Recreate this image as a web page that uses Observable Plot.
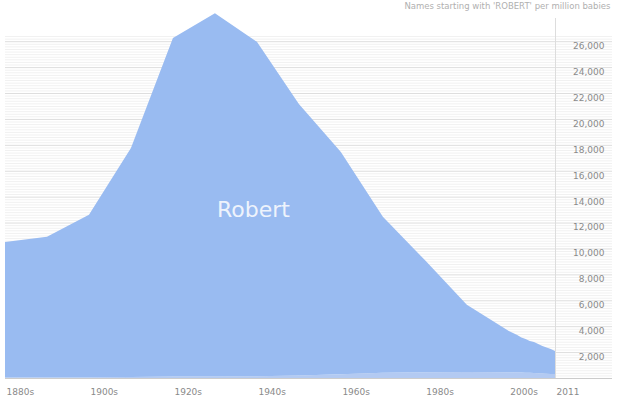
<!DOCTYPE html>
<html>
<head>
<meta charset="utf-8">
<script src="https://cdn.jsdelivr.net/npm/d3@7"></script>
<script src="https://cdn.jsdelivr.net/npm/@observablehq/plot@0.6"></script>
<style>
  html, body { margin: 0; padding: 0; background: #fff; }
  #chart svg { display: block; }
</style>
</head>
<body>
<div id="chart"></div>
<script>
// Years: decades to 2000, then yearly to 2011
const years = [1880, 1890, 1900, 1910, 1920, 1930, 1940, 1950, 1960, 1970, 1980, 1990, 2000,
  2001, 2002, 2003, 2004, 2005, 2006, 2007, 2008, 2009, 2010, 2011];
// Per million babies
const roberto = [40, 50, 60, 80, 110, 120, 130, 190, 280, 400, 450, 460, 450,
  440, 430, 420, 410, 400, 380, 360, 340, 330, 310, 300];
const robert = [10460, 10850, 12540, 17670, 26140, 28030, 25820, 20960, 17170, 12050, 8650, 5190, 3180,
  3035, 2890, 2707, 2602, 2457, 2400, 2265, 2131, 2025, 1929, 1785];
const seriesNames = ["Roberto", "Robert"];
const xTickYears = [1880, 1900, 1920, 1940, 1960, 1980, 2000, 2011];
const xTickLabels = ["1880s", "1900s", "1920s", "1940s", "1960s", "1980s", "2000s", "2011"];
const majorTicks = d3.range(2000, 26001, 2000);
const minorTicks = d3.range(200, 26401, 200).filter(v => v % 2000 !== 0);
const title = "Names starting with 'ROBERT' per million babies";
const labelName = "Robert";
const labelYear = 1940;

const rows = [];
seriesNames.forEach(name => {
  const vals = name === "Robert" ? robert : roberto;
  years.forEach((yr, i) => rows.push({name, year: yr, value: vals[i]}));
});

const labelRow = [{year: labelYear, value: robert[years.indexOf(labelYear)] / 2 + roberto[years.indexOf(labelYear)]}];

const font = "DejaVu Sans, Verdana, sans-serif";

const chart = Plot.plot({
  width: 620,
  height: 402,
  marginLeft: 5,
  marginRight: 65,
  marginTop: 14,
  marginBottom: 24,
  style: {fontFamily: font, background: "#fff"},
  x: {type: "linear", domain: [1880, 2011], axis: null},
  y: {domain: [0, 28100], axis: null},
  color: {domain: seriesNames, range: ["#b3caf2", "#99bbf1"]},
  marks: [
    Plot.ruleY(minorTicks, {stroke: "#f1f1f1", strokeWidth: 1, insetRight: -57}),
    Plot.ruleY(majorTicks, {stroke: "#dedede", strokeWidth: 1, insetRight: -57}),
    Plot.ruleX([2011], {stroke: "#dddddd", strokeWidth: 1, insetTop: 4}),
    Plot.areaY(rows, {x: "year", y: "value", z: "name", fill: "name", curve: "linear"}),
    Plot.ruleY([0], {stroke: "#cccccc", strokeWidth: 1, insetRight: -57}),
    Plot.text(majorTicks, {
      y: d => d, frameAnchor: "right", dx: 49, dy: 1, textAnchor: "end", lineAnchor: "top",
      text: d => d3.format(",")(d), fill: "#8a8a8a", fontSize: 9
    }),
    Plot.text(xTickYears, {
      x: d => d, frameAnchor: "bottom", dy: 14, dx: 1, textAnchor: "start", lineAnchor: "middle",
      text: (d, i) => xTickLabels[i], fill: "#8a8a8a", fontSize: 9
    }),
    Plot.text([title], {
      frameAnchor: "top-right", dx: 55, dy: -12, textAnchor: "end", lineAnchor: "top",
      text: d => d, fill: "#b0b0b0", fontSize: 8.5
    }),
    Plot.text(labelRow, {
      x: "year", y: "value", text: () => labelName, fill: "#eef3fc", fontSize: 22,
      textAnchor: "middle", lineAnchor: "middle", dx: -4
    })
  ]
});
document.getElementById("chart").append(chart);
</script>
</body>
</html>
